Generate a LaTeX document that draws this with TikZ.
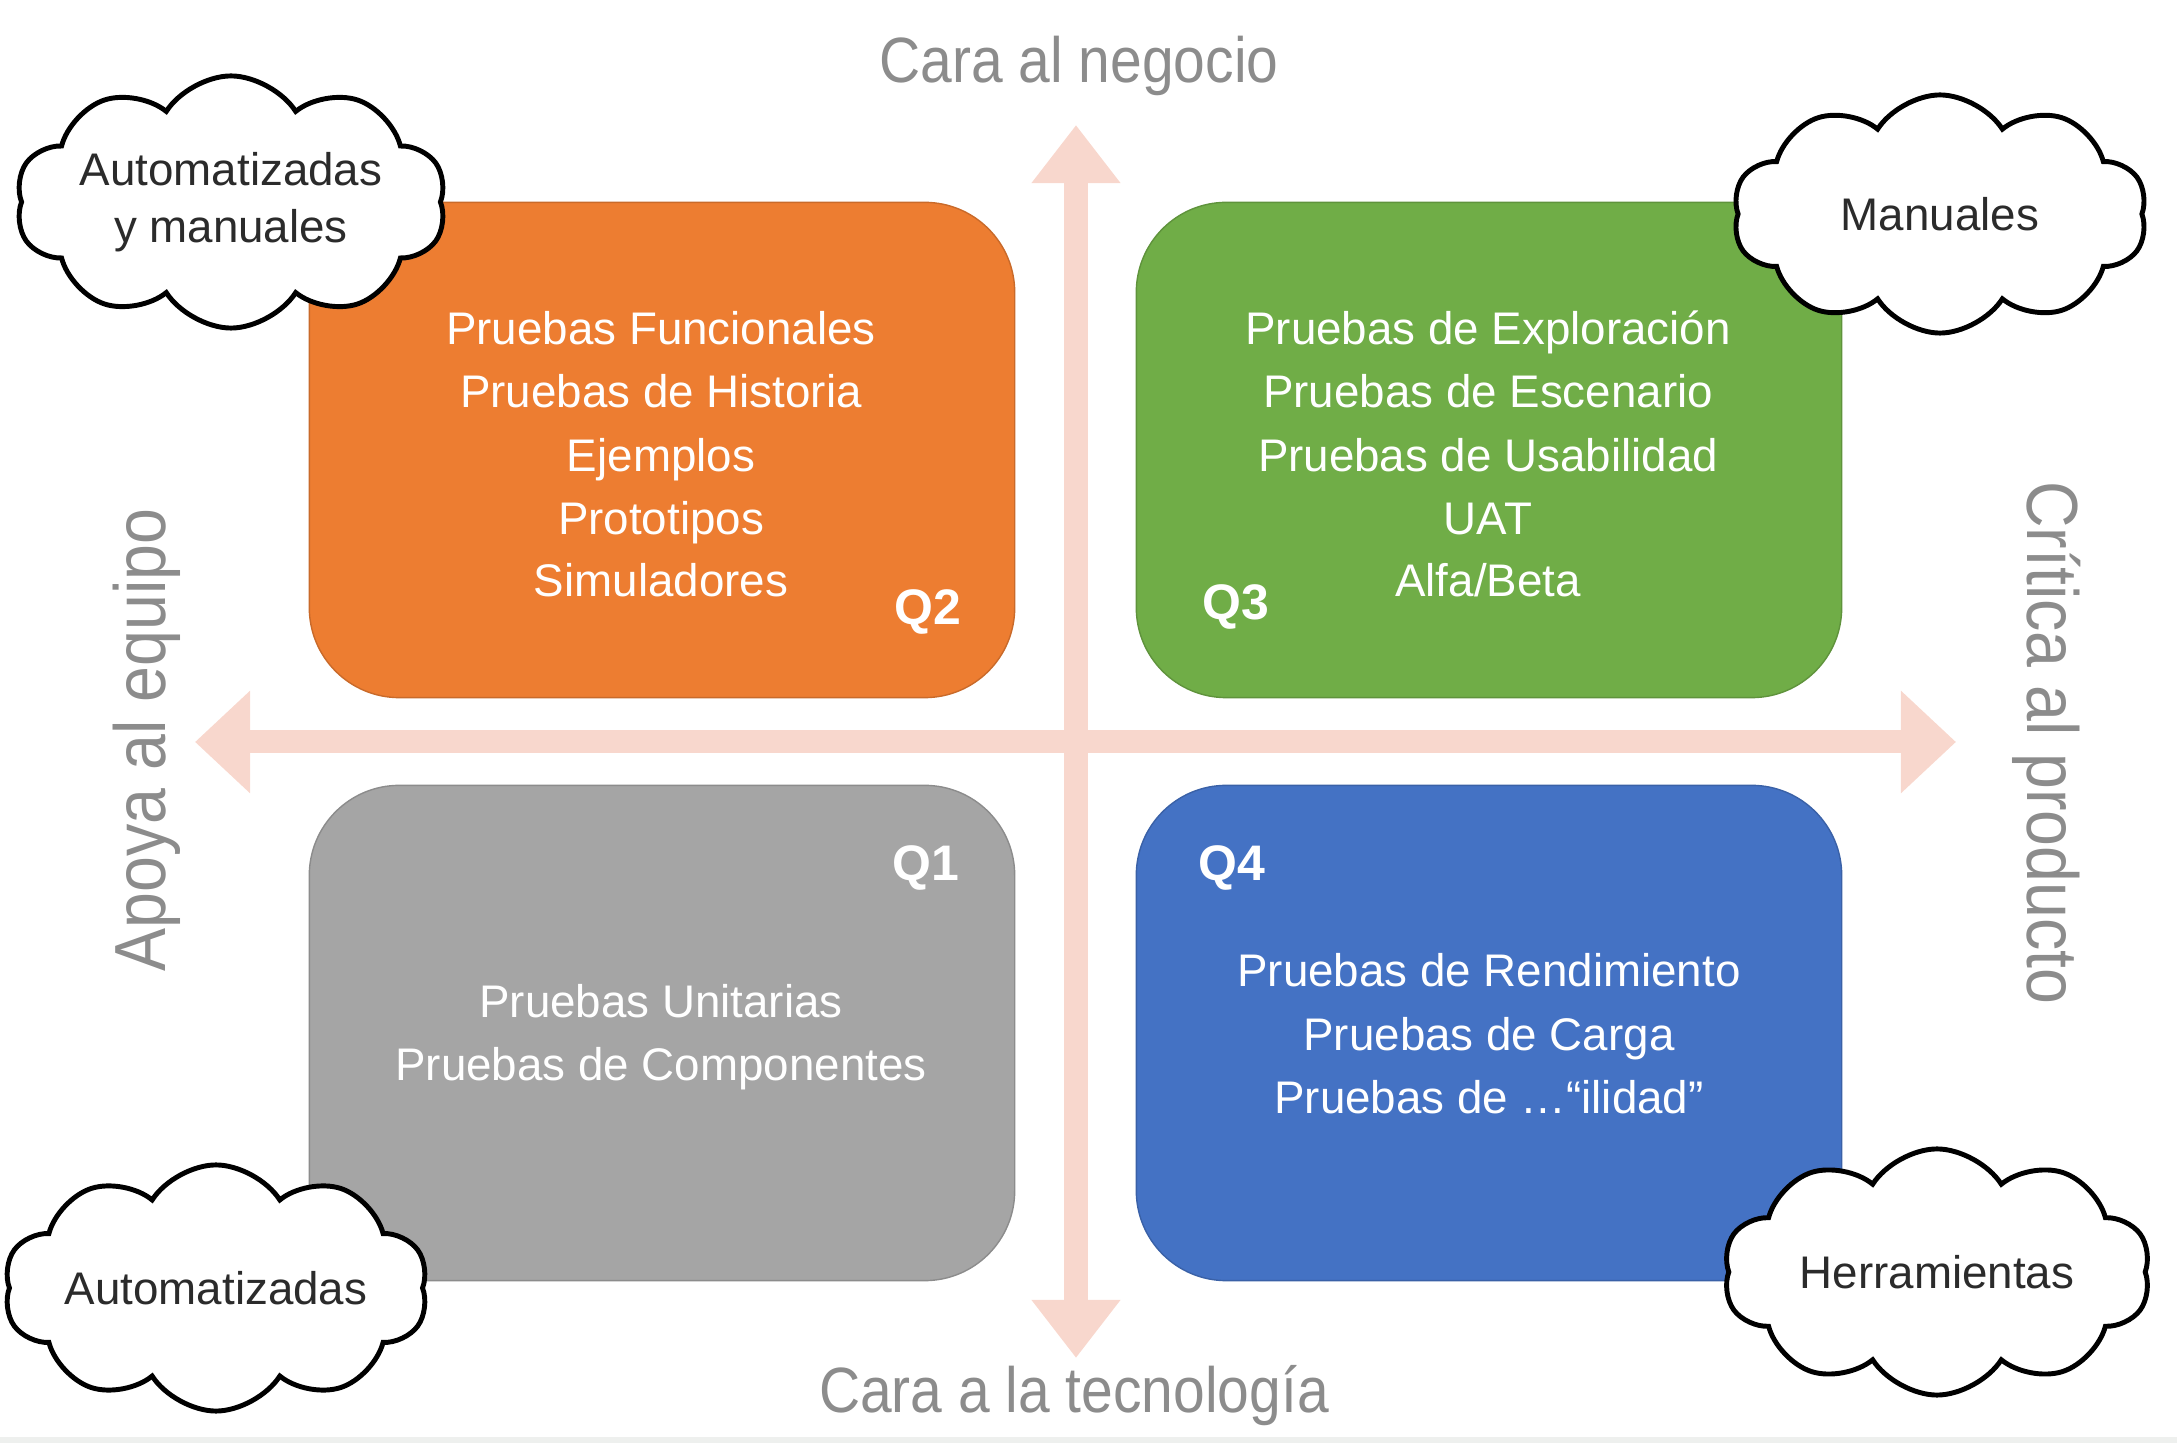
\documentclass[tikz,border=0pt]{standalone}
\usepackage{fontspec}
\setmainfont{Liberation Sans}
\newfontfamily\axisfont[FakeStretch=0.89]{Liberation Sans}
\usetikzlibrary{arrows.meta,shapes.symbols}

\definecolor{qorange}{HTML}{ED7D31}
\definecolor{qgreen}{HTML}{70AD47}
\definecolor{qgray}{HTML}{A5A5A5}
\definecolor{qblue}{HTML}{4472C4}
\definecolor{axispink}{HTML}{F8D7CD}
\definecolor{axisgray}{HTML}{8C8C8C}
\definecolor{cloudtext}{HTML}{2B2B2B}
\definecolor{bandgray}{HTML}{EEF0EE}

\begin{document}
\begin{tikzpicture}[x=0.01cm,y=-0.01cm,
	quad/.style={rounded corners=0.9cm, minimum width=7.05cm, minimum height=4.95cm, inner sep=0},
	item/.style={anchor=base, inner sep=0, text=white, font=\fontsize{13pt}{15pt}\selectfont},
	qlabel/.style={anchor=base, inner sep=0, text=white, font=\bfseries\fontsize{14.2pt}{16pt}\selectfont},
	axislabel/.style={anchor=base, inner sep=0, text=axisgray},
	nube/.style={cloud, cloud puffs=10, cloud puff arc=115, cloud ignores aspect, draw=black, line width=1.4pt, fill=white, inner sep=0, align=center, text=cloudtext, font=\fontsize{13pt}{16.2pt}\selectfont},
	vaxis/.style={draw=axispink, line width=0.23cm, {Triangle[width=0.85cm,length=0.58cm]}-{Triangle[width=0.85cm,length=0.58cm]}},
	haxis/.style={draw=axispink, line width=0.23cm, {Triangle[width=0.99cm,length=0.55cm]}-{Triangle[width=0.99cm,length=0.55cm]}}]
\useasboundingbox (0,0) rectangle (2177,1443);
\fill[bandgray] (0,1437) rectangle (2177,1443);

% axes
\coordinate (ntop) at (1076,125);
\coordinate (nbot) at (1076,1358);
\coordinate (nleft) at (195,742);
\coordinate (nright) at (1956,742);
\draw[vaxis] (ntop) -- (nbot);
\draw[haxis] (nleft) -- (nright);

\node[axislabel, font=\axisfont\fontsize{18.2pt}{20pt}\selectfont] (negocio) at (1079,83) {Cara al negocio};
\node[axislabel, font=\axisfont\fontsize{18.2pt}{20pt}\selectfont] (tecno) at (1074,1413) {Cara a la tecnología};
\node[axislabel, rotate=90, font=\axisfont\fontsize{20.6pt}{22pt}\selectfont] (equipo) at (165,740) {Apoya al equipo};
\node[axislabel, rotate=-90, font=\axisfont\fontsize{20.6pt}{22pt}\selectfont] (producto) at (2027,743) {Crítica al producto};

% quadrants
\node[quad, fill=qorange, draw=qorange!85!black, line width=0.4pt] (q2box) at (662,450) {};
\node[quad, fill=qgreen, draw=qgreen!85!black, line width=0.4pt] (q3box) at (1489,450) {};
\node[quad, fill=qgray, draw=qgray!85!black, line width=0.4pt] (q1box) at (662,1033) {};
\node[quad, fill=qblue, draw=qblue!85!black, line width=0.4pt] (q4box) at (1489,1033) {};

\node[item] (q2a) at (661,345) {Pruebas Funcionales};
\node[item] (q2b) at (661,408) {Pruebas de Historia};
\node[item] (q2c) at (661,472) {Ejemplos};
\node[item] (q2d) at (661,535) {Prototipos};
\node[item] (q2e) at (661,597) {Simuladores};
\node[qlabel] (q2) at (928,625) {Q2};

\node[item] (q3a) at (1488,345) {Pruebas de Exploración};
\node[item] (q3b) at (1488,408) {Pruebas de Escenario};
\node[item] (q3c) at (1488,472) {Pruebas de Usabilidad};
\node[item] (q3d) at (1488,535) {UAT};
\node[item] (q3e) at (1488,597) {Alfa/Beta};
\node[qlabel] (q3) at (1236,620) {Q3};

\node[item] (q1a) at (661,1018) {Pruebas Unitarias};
\node[item] (q1b) at (661,1081) {Pruebas de Componentes};
\node[qlabel] (q1) at (926,881) {Q1};

\node[item] (q4a) at (1489,987) {Pruebas de Rendimiento};
\node[item] (q4b) at (1489,1051) {Pruebas de Carga};
\node[item] (q4c) at (1489,1114) {Pruebas de \dots``ilidad''};
\node[qlabel] (q4) at (1232,881) {Q4};

% clouds
\node[nube, minimum width=4.27cm, minimum height=2.52cm] (automan) at (231,202) {Automatizadas\\y manuales};
\node[nube, minimum width=4.14cm, minimum height=2.38cm] (manual) at (1940,214) {Manuales};
\node[nube, minimum width=4.24cm, minimum height=2.46cm] (auto) at (216,1288) {Automatizadas};
\node[nube, minimum width=4.27cm, minimum height=2.46cm] (herram) at (1937,1272) {Herramientas};
\end{tikzpicture}
\end{document}
